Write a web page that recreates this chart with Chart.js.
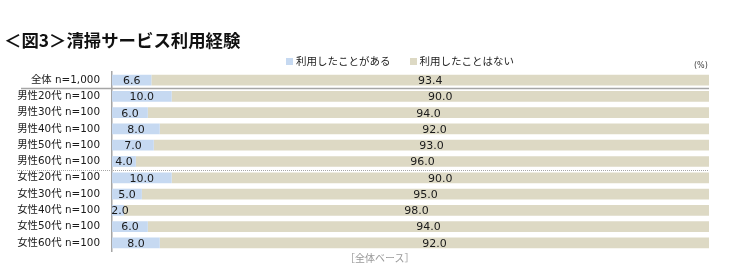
<!DOCTYPE html>
<html>
<head>
<meta charset="utf-8">
<script src="https://cdn.jsdelivr.net/npm/chart.js@4/dist/chart.umd.min.js"></script>
<style>
  html, body { margin: 0; padding: 0; background: #fff; }
  #wrap { position: relative; width: 750px; height: 279px; font-family: "DejaVu Sans", "Noto Sans CJK JP", sans-serif; }
  #title { position: absolute; left: 4px; top: 27px; font: bold 17.4px "Noto Sans CJK JP", sans-serif; color: #111; white-space: nowrap; }
  #legend { position: absolute; left: 286px; top: 53px; font-size: 10.5px; color: #222; white-space: nowrap; }
  #legend span.item { margin-right: 19px; }
  #legend i { display: inline-block; width: 7px; height: 7px; margin-right: 3px; vertical-align: 0px; }
  #unit { position: absolute; left: 694px; top: 61px; font-size: 8px; color: #444; }
  #note { position: absolute; left: 345px; top: 250px; font-size: 10px; color: #999; }
  canvas { position: absolute; left: 0; top: 0; }
</style>
</head>
<body>
<div id="wrap">
  <canvas id="chart" width="750" height="279"></canvas>
  <div id="title">＜図3＞清掃サービス利用経験</div>
  <div id="legend"></div>
  <div id="unit">(%)</div>
  <div id="note">［全体ベース］</div>
</div>
<script>
// ---- data ----
const categories = [
    '全体 n=1,000',
    '男性20代 n=100', '男性30代 n=100', '男性40代 n=100', '男性50代 n=100', '男性60代 n=100',
    '女性20代 n=100', '女性30代 n=100', '女性40代 n=100', '女性50代 n=100', '女性60代 n=100'
];
const seriesNames = ['利用したことがある', '利用したことはない'];
const usedValues    = [6.6, 10.0, 6.0, 8.0, 7.0, 4.0, 10.0, 5.0, 2.0, 6.0, 8.0];
const notUsedValues = [93.4, 90.0, 94.0, 92.0, 93.0, 96.0, 90.0, 95.0, 98.0, 94.0, 92.0];
const seriesColors  = ['#c6d9f1', '#ddd9c4'];

// legend (html)
document.getElementById('legend').innerHTML = seriesNames.map((n, i) =>
    `<span class="item"><i style="background:${seriesColors[i]}"></i>${n}</span>`).join('');

// separators + value labels
const extras = {
    id: 'extras',
    afterDatasetsDraw(chart) {
        const ctx = chart.ctx;
        const y = chart.scales.y;
        const right = chart.chartArea.right;
        const mid = i => (y.getPixelForTick(i) + y.getPixelForTick(i + 1)) / 2;

        ctx.save();
        ctx.strokeStyle = '#a6a6a6';
        ctx.lineWidth = 1.5;
        ctx.beginPath();
        ctx.moveTo(21, Math.round(mid(0)) + 0.5);
        ctx.lineTo(right, Math.round(mid(0)) + 0.5);
        ctx.stroke();

        ctx.lineWidth = 1;
        ctx.setLineDash([1, 1]);
        ctx.beginPath();
        ctx.moveTo(17, Math.round(mid(5)) + 0.5);
        ctx.lineTo(right, Math.round(mid(5)) + 0.5);
        ctx.stroke();
        ctx.setLineDash([]);

        ctx.fillStyle = '#1a1a1a';
        ctx.font = '11px "DejaVu Sans", sans-serif';
        ctx.textAlign = 'center';
        ctx.textBaseline = 'middle';
        chart.data.datasets.forEach((ds, di) => {
            chart.getDatasetMeta(di).data.forEach((bar, i) => {
                const cx = (bar.x + bar.base) / 2;
                ctx.fillText(ds.data[i].toFixed(1), Math.max(cx, bar.base + 8), bar.y + 1);
            });
        });
        ctx.restore();
    }
};

new Chart(document.getElementById('chart').getContext('2d'), {
    type: 'bar',
    data: {
        labels: categories,
        datasets: seriesNames.map((name, i) => ({
            label: name,
            data: i === 0 ? usedValues : notUsedValues,
            backgroundColor: seriesColors[i],
            borderWidth: 0,
            barPercentage: 0.66,
            categoryPercentage: 1
        }))
    },
    options: {
        indexAxis: 'y',
        responsive: false,
        animation: false,
        layout: { padding: { left: 0, right: 41, top: 72, bottom: 28 } },
        plugins: {
            legend: { display: false },
            tooltip: { enabled: false }
        },
        scales: {
            x: { stacked: true, min: 0, max: 100, display: false },
            y: {
                stacked: true,
                grid: { display: false, drawTicks: false },
                border: { display: true, color: '#a6a6a6', width: 1.5 },
                ticks: {
                    color: '#1a1a1a',
                    padding: 12,
                    font: { family: '"DejaVu Sans", "Noto Sans CJK JP", sans-serif', size: 10.4 }
                },
                afterFit: s => { s.width = 112; }
            }
        }
    },
    plugins: [extras]
});
</script>
</body>
</html>
